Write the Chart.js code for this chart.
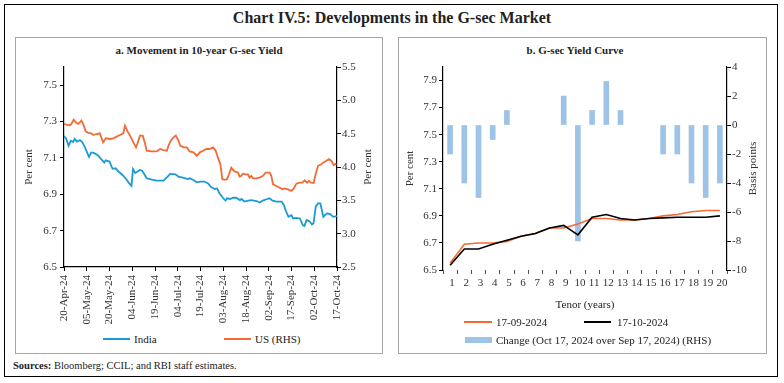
<!DOCTYPE html>
<html><head><meta charset="utf-8">
<script src="https://cdn.jsdelivr.net/npm/chart.js@4.4.1/dist/chart.umd.min.js"></script>
<style>
body{margin:0;width:784px;height:383px;background:#fff;position:relative;overflow:hidden;font-family:"Liberation Serif",serif;color:#222}
.abs{position:absolute}
#outer{left:4px;top:4px;width:774px;height:373px;border:1.5px solid #000;box-sizing:border-box}
.panel{top:37px;height:317px;border:1.5px solid #a6a6a6;box-sizing:border-box}
#pa{left:15px;width:368px}
#pb{left:398px;width:369px}
#title{left:0;width:784px;top:9px;text-align:center;font-size:16px;font-weight:bold;color:#222}
.sub{top:44px;font-size:11px;font-weight:bold;text-align:center;color:#222}
.leg{font-size:11px;color:#222;white-space:nowrap;line-height:12px}
.ln{position:absolute;height:2px}
#src{left:13px;top:360px;font-size:10.5px;color:#222}
canvas{position:absolute}
</style></head>
<body>
<div id="outer" class="abs"></div>
<div id="pa" class="abs panel"></div>
<div id="pb" class="abs panel"></div>
<div id="title" class="abs">Chart IV.5: Developments in the G-sec Market</div>
<div class="abs sub" style="left:15px;width:368px">a. Movement in 10-year G-sec Yield</div>
<div class="abs sub" style="left:475px;width:200px">b. G-sec Yield Curve</div>
<div style="position:absolute;left:15px;top:40px;width:368px;height:290px"><canvas id="ca" width="368" height="290"></canvas></div>
<div style="position:absolute;left:398px;top:40px;width:369px;height:290px"><canvas id="cb" width="369" height="290"></canvas></div>

<div class="ln" style="left:103px;top:338px;width:27px;background:#1C9AD6"></div>
<div class="abs leg" style="left:134px;top:333px">India</div>
<div class="ln" style="left:224px;top:338px;width:27px;background:#F26B35"></div>
<div class="abs leg" style="left:255px;top:333px">US (RHS)</div>

<div class="abs leg" style="left:485px;width:200px;top:298px;text-align:center">Tenor (years)</div>
<div class="ln" style="left:464px;top:321px;width:28px;background:#F26B35"></div>
<div class="abs leg" style="left:496px;top:316px">17-09-2024</div>
<div class="ln" style="left:584px;top:321px;width:27px;background:#000"></div>
<div class="abs leg" style="left:617px;top:316px">17-10-2024</div>
<div class="ln" style="left:465px;top:337px;width:27px;height:6px;background:#9DC3E6"></div>
<div class="abs leg" style="left:496px;top:334px">Change (Oct 17, 2024 over Sep 17, 2024) (RHS)</div>

<div id="src" class="abs"><b>Sources:</b> Bloomberg; CCIL; and RBI staff estimates.</div>

<script>
// ---- Panel a data (x = days since 20-Apr-24) ----
const dateTickLabels = ['20-Apr-24','05-May-24','20-May-24','04-Jun-24','19-Jun-24','04-Jul-24','19-Jul-24','03-Aug-24','18-Aug-24','02-Sep-24','17-Sep-24','02-Oct-24','17-Oct-24'];
const indiaDays = [0,1.5,3,4.5,6,7,8.5,10.5,12,13.5,15,16.5,18,20,22.5,24.5,26.5,27.5,30,32,34,36.5,38.5,41,43,44.5,45.5,47,48.5,50,51.5,53,54.5,58,61,65.5,68,70,73.5,75.5,79,81.5,83,85.5,87.5,90,92.5,95,97,99.5,101,102.5,105,106.5,107.5,109.5,111.5,113.5,116,117,119,121.5,123.5,127,129,131,134,135.5,137.5,140,143.5,145,146.5,148,150,151,153,155.5,157.5,158.5,160,162,163.5,164.5,166,167.5,169,171,172,173.5,175.5,177.5,180];
const indiaYield = [7.22,7.205,7.167,7.194,7.187,7.205,7.19,7.198,7.187,7.163,7.135,7.106,7.13,7.126,7.113,7.093,7.075,7.087,7.08,7.04,7.043,7.021,7.006,6.984,6.96,6.946,7.038,7.017,7.025,7.034,7.03,7.01,6.988,6.98,6.975,6.975,6.994,7.012,7.01,6.997,6.99,6.984,6.988,6.977,6.966,6.97,6.97,6.96,6.94,6.929,6.932,6.905,6.878,6.865,6.878,6.874,6.881,6.881,6.868,6.874,6.86,6.865,6.868,6.863,6.855,6.865,6.874,6.878,6.865,6.86,6.86,6.84,6.804,6.776,6.785,6.767,6.77,6.767,6.73,6.726,6.758,6.75,6.734,6.74,6.832,6.85,6.85,6.776,6.785,6.795,6.791,6.776,6.78];
const usDays = [0,1.5,3.8,4.9,6.4,7.7,9.3,10.4,11.5,12.6,14.3,15.9,18.1,19.2,21.4,23.6,25.8,27.6,30.2,32.5,34.7,36.9,39.1,40.2,41.9,43.5,45.7,47.5,48.3,50.1,51.9,53.4,54.5,57.8,61.1,63.4,65.6,67.8,68.9,70.4,72.2,73.7,75.5,76.6,78.8,81,82.8,85.4,87.6,89.6,91.7,93.9,96,98.2,100,101.5,103.1,104.4,105.9,107.5,108.8,110.3,111.5,113.2,114.7,115.8,116.9,118,119.8,121.3,122.4,123.5,124.6,126.8,129,131.2,133,135.6,136.7,137.8,140,142.2,144,145.5,147.7,149.9,151.4,153.2,155.4,157.1,158.7,160.2,161.5,163,164.6,165.9,167.5,169.7,170.8,173,174.7,176.3,177.8,179.6];
const usYield = [4.646,4.636,4.626,4.646,4.711,4.671,4.646,4.671,4.696,4.646,4.535,4.51,4.505,4.48,4.495,4.505,4.369,4.43,4.42,4.43,4.455,4.48,4.505,4.62,4.535,4.47,4.369,4.294,4.344,4.47,4.47,4.355,4.244,4.234,4.234,4.27,4.254,4.244,4.32,4.395,4.445,4.47,4.395,4.32,4.294,4.294,4.234,4.22,4.168,4.22,4.244,4.27,4.27,4.294,4.244,4.14,4.043,3.817,3.807,3.817,3.89,3.99,3.955,3.925,3.917,3.857,3.867,3.9,3.89,3.89,3.84,3.867,3.83,3.83,3.84,3.867,3.917,3.917,3.867,3.74,3.715,3.69,3.665,3.68,3.665,3.64,3.675,3.75,3.765,3.765,3.8,3.765,3.79,3.765,3.76,3.89,4.018,4.04,4.065,4.093,4.118,4.093,4.03,4.05];
const leftTicksA = [6.5,6.7,6.9,7.1,7.3,7.5];

// ---- Panel b data ----
const tenors = ['1','2','3','4','5','6','7','8','9','10','11','12','13','14','15','16','17','18','19','20'];
const yieldSep17 = [6.55,6.69,6.70,6.70,6.71,6.75,6.77,6.81,6.81,6.84,6.88,6.88,6.87,6.87,6.88,6.90,6.91,6.93,6.94,6.94];
const yieldOct17 = [6.535,6.655,6.655,6.69,6.72,6.75,6.77,6.81,6.83,6.76,6.89,6.91,6.88,6.87,6.88,6.885,6.89,6.89,6.89,6.90];
const changeBps = [-2,-4,-5,-1,1,0,0,0,2,-8,1,3,1,0,0,-2,-2,-4,-5,-4];
const leftTicksB = [6.5,6.7,6.9,7.1,7.3,7.5,7.7,7.9];

const ORANGE = '#F26B35', BLUE = '#1C9AD6', BAR = '#9DC3E6';
Chart.defaults.font.family = '"Liberation Serif", serif';
Chart.defaults.font.size = 11;
Chart.defaults.color = '#333';
Chart.defaults.animation = false;

const tickFont = {family:'"Liberation Serif", serif', size:11};
function fixW(w){return s=>{s.width=w;};}
function fixH(h){return s=>{s.height=h;};}

// Right-axis title drawn bottom-to-top, centred on the chart area, at a given offset from the canvas right edge
const rightTitle = {
  id:'rightTitle',
  afterDraw(chart, args, opts){
    const {ctx, chartArea} = chart;
    ctx.save();
    ctx.font = '11px "Liberation Serif", serif';
    ctx.fillStyle = '#333';
    ctx.textAlign = 'center';
    ctx.textBaseline = 'middle';
    ctx.translate(chart.width - opts.offset, (chartArea.top + chartArea.bottom) / 2);
    ctx.rotate(-Math.PI / 2);
    ctx.fillText(opts.text, 0, 0);
    ctx.restore();
  }
};

new Chart(document.getElementById('ca'), {
  type:'line',
  data:{datasets:[
    {label:'India', data:indiaDays.map((d,i)=>({x:d,y:indiaYield[i]})), borderColor:BLUE, borderWidth:1.8, pointRadius:0, tension:0, yAxisID:'y'},
    {label:'US (RHS)', data:usDays.map((d,i)=>({x:d,y:usYield[i]})), borderColor:ORANGE, borderWidth:1.8, pointRadius:0, tension:0, yAxisID:'y1'}
  ]},
  plugins:[rightTitle],
  options:{
    responsive:false, maintainAspectRatio:false,
    layout:{padding:{top:27,left:0,right:0,bottom:0}},
    plugins:{legend:{display:false}, tooltip:{enabled:false}, rightTitle:{text:'Per cent', offset:15}},
    scales:{
      x:{type:'linear', min:0, max:180,
        afterBuildTicks:s=>{s.ticks=dateTickLabels.map((l,i)=>({value:i*15}));},
        ticks:{font:tickFont, color:'#333', minRotation:90, maxRotation:90, padding:4, autoSkip:false, callback:(v,i)=>dateTickLabels[i]},
        grid:{display:true, drawOnChartArea:false, drawTicks:true, tickLength:4, color:'#000'},
        border:{display:true, color:'#000', width:1.2},
        afterFit:fixH(63)},
      y:{position:'left', min:6.5, max:7.6,
        afterBuildTicks:s=>{s.ticks=leftTicksA.map(v=>({value:v}));},
        ticks:{font:tickFont, color:'#333', padding:3, callback:v=>v.toFixed(1)},
        grid:{display:true, drawOnChartArea:false, tickLength:4, color:'#000'},
        border:{display:true, color:'#000', width:1.2},
        title:{display:true, text:'Per cent', font:tickFont, color:'#333', padding:{top:8,bottom:0}},
        afterFit:fixW(49)},
      y1:{position:'right', min:2.5, max:5.5,
        ticks:{font:tickFont, color:'#333', padding:1, stepSize:0.5, callback:v=>v.toFixed(1)},
        grid:{display:true, drawOnChartArea:false, tickLength:4, color:'#000'},
        border:{display:true, color:'#000', width:1.2},
        afterFit:fixW(46)}
    }
  }
});

new Chart(document.getElementById('cb'), {
  type:'bar',
  data:{labels:tenors, datasets:[
    {type:'line', label:'17-09-2024', data:yieldSep17, borderColor:ORANGE, borderWidth:1.6, pointRadius:0, tension:0, yAxisID:'y', order:1},
    {type:'line', label:'17-10-2024', data:yieldOct17, borderColor:'#000', borderWidth:1.6, pointRadius:0, tension:0, yAxisID:'y', order:0},
    {type:'bar', label:'Change (Oct 17, 2024 over Sep 17, 2024) (RHS)', data:changeBps.map(v=>v===0?null:v), backgroundColor:BAR, barThickness:5, yAxisID:'y1', order:2}
  ]},
  plugins:[rightTitle],
  options:{
    responsive:false, maintainAspectRatio:false,
    layout:{padding:{top:27,left:0,right:0,bottom:0}},
    plugins:{legend:{display:false}, tooltip:{enabled:false}, rightTitle:{text:'Basis points', offset:14}},
    scales:{
      x:{type:'category', offset:true,
        ticks:{font:tickFont, color:'#333', maxRotation:0, minRotation:0, autoSkip:false, padding:3, labelOffset:2},
        grid:{display:true, drawOnChartArea:false, drawTicks:true, tickLength:4, offset:true, color:'#555'},
        border:{display:false},
        afterFit:fixH(60)},
      y:{position:'left', min:6.5, max:8.0,
        afterBuildTicks:s=>{s.ticks=leftTicksB.map(v=>({value:v}));},
        ticks:{font:tickFont, color:'#333', padding:2, callback:v=>v.toFixed(1)},
        grid:{display:true, drawOnChartArea:false, tickLength:4, color:'#000'},
        border:{display:true, color:'#000', width:1.2},
        title:{display:true, text:'Per cent', font:tickFont, color:'#333', padding:{top:6,bottom:0}},
        afterFit:fixW(45)},
      y1:{position:'right', min:-10, max:4,
        ticks:{font:tickFont, color:'#333', padding:1, stepSize:2},
        grid:{display:true, drawOnChartArea:false, tickLength:4, color:'#000'},
        border:{display:true, color:'#000', width:1.2},
        afterFit:fixW(40)}
    }
  }
});
</script>
</body></html>
